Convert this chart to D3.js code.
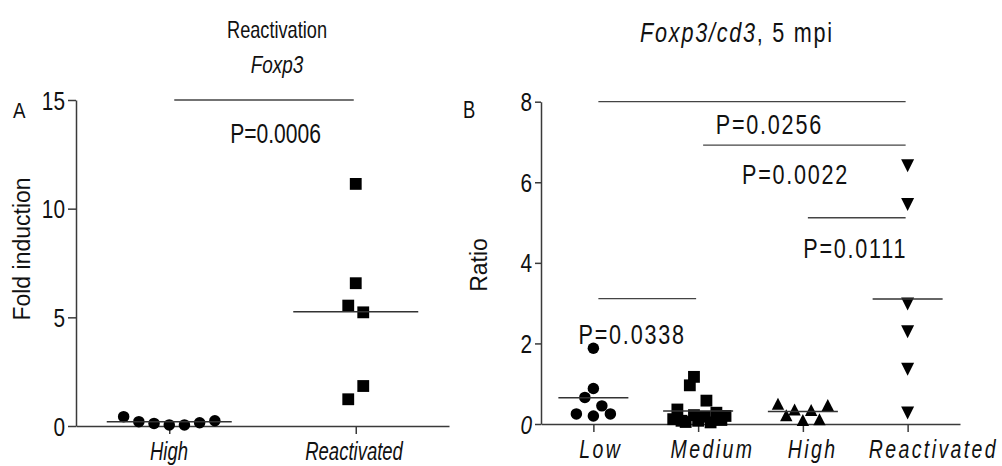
<!DOCTYPE html>
<html>
<head>
<meta charset="utf-8">
<script src="https://cdn.jsdelivr.net/npm/d3@7"></script>
<style>
  body { margin: 0; background: #fff; }
  svg { display: block; font-family: "Liberation Sans", Arial, sans-serif; }
  text { fill: #111; }
</style>
</head>
<body>
<svg></svg>
<script>
const size = { w: 1002, h: 466 };
const svg = d3.select("svg").attr("width", size.w).attr("height", size.h);

// ---------- data ----------
// panel A: Reactivation, Foxp3 fold induction
const catsA = ["High", "Reactivated"];
const highA = [0.43, 0.2, 0.12, 0.05, 0.05, 0.15, 0.24];
const highASlot = [-3, -2, -1, 0, 1, 2, 3];
const reactA = [11.14, 6.57, 5.54, 5.23, 1.84, 1.23];
const reactASlot = [0, 0, -1, 1, 1, -1];
const meanA = [0.2, 5.26];
const ticksA = [0, 5, 10, 15];
// significance bar: from category, to category, height, label, label height, label pos (category units)
const sigA = [{ from: 0, to: 1, y: 15, label: "P=0.0006", ly: 13.0, lx: 0.57 }];

// panel B: Foxp3/cd3 ratio, 5 mpi
const catsB = ["Low", "Medium", "High", "Reactivated"];
const lowB = [1.88, 0.88, 0.66, 0.45, 0.25, 0.2, 0.25];
const lowBSlot = [0, 0, -1, 1, -2, 0, 2];
const medB = [1.17, 0.96, 0.58, 0.36, 0.12, 0.05, 0.22, 0.08, 0.18, 0.04, 0.28, 0.1, 0.2, 0.08];
const medBSlot = [-0.5, -1, 1, -2.5, -3, -1.5, -0.5, 0, 0.8, 1.5, 2.2, 2.8, 3.3, -2];
const highB = [0.5, 0.22, 0.36, 0.1, 0.35, 0.12, 0.47];
const highBSlot = [-3, -2, -1, 0, 1, 2, 3];
const reactB = [6.41, 5.45, 2.98, 2.29, 1.36, 0.27];
const reactBSlot = [0, 0, 0, 0, 0, 0];
const meanB = [0.65, 0.32, 0.31, 3.1];
const ticksB = [0, 2, 4, 6, 8];
const sigB = [
  { from: 0, to: 3, y: 8.0, label: "P=0.0256", ly: 7.2, lx: 1.68 },
  { from: 1, to: 3, y: 6.92, label: "P=0.0022", ly: 5.95, lx: 1.93 },
  { from: 2, to: 3, y: 5.12, label: "P=0.0111", ly: 4.11, lx: 2.5 },
  { from: 0, to: 1, y: 3.11, label: "P=0.0338", ly: 1.98, lx: 0.37 },
];

// ---------- helpers ----------
// condensed-looking text: scale horizontally
function txt(g, x, y, s, o) {
  return g.append("text")
    .attr("transform", `translate(${x},${y}) scale(${o.sx == null ? 0.8 : o.sx},1)`)
    .attr("text-anchor", o.anchor || "middle")
    .style("font-size", o.size + "px")
    .style("font-style", o.italic ? "italic" : "normal")
    .style("letter-spacing", (o.ls || 0) + "px")
    .text(s);
}

const shapes = {
  circle: d3.symbol().type(d3.symbolCircle).size(Math.PI * 33)(),
  square: d3.symbol().type(d3.symbolSquare).size(140)(),
  up: "M-6.2,6L6.2,6L0,-6Z",
  down: "M-6.5,-6.5L6.5,-6.5L0,6.5Z",
};

function drawPanel(cfg) {
  const g = svg.append("g");
  const x = d3.scalePoint().domain(cfg.cats).range(cfg.xr).padding(0.5);
  const y = d3.scaleLinear().domain(cfg.yd).range(cfg.yr);
  const step = x.step();
  const catX = (i) => x(cfg.cats[0]) + i * step;

  // axes
  const ya = g.append("g").attr("transform", `translate(${cfg.xr[0]},0)`)
    .call(d3.axisLeft(y).tickValues(cfg.ticks).tickSize(cfg.tick).tickSizeOuter(0));
  ya.selectAll("text")
    .attr("x", null).attr("dy", null)
    .attr("transform", `translate(${cfg.tlx},${cfg.tly}) scale(0.8,1)`)
    .style("font-size", "26px").style("fill", "#111")
    .style("font-style", (d) => (cfg.italicZero && d === 0 ? "italic" : "normal"))
    .style("font-family", "inherit");

  const xa = g.append("g").attr("transform", `translate(0,${cfg.yr[0]})`)
    .call(d3.axisBottom(x).tickSize(8).tickSizeOuter(0));
  xa.selectAll("text")
    .attr("y", null).attr("dy", null)
    .attr("transform", (d) => `translate(${cfg.xdx * d.length},34) scale(${cfg.xsx},1)`)
    .style("font-size", cfg.xfs + "px").style("font-style", "italic")
    .style("letter-spacing", cfg.xls + "px").style("fill", "#111")
    .style("font-family", "inherit");

  g.selectAll(".domain, .tick line").attr("stroke", "#3a3a3a").attr("stroke-width", 1.5);

  // points
  cfg.series.forEach((s, i) => {
    const cx = x(cfg.cats[i]);
    g.append("g").selectAll("path")
      .data(s.values)
      .join("path")
      .attr("d", shapes[s.shape])
      .attr("transform", (d, j) => `translate(${cx + s.slot[j] * s.slotPx},${y(d)})`)
      .attr("fill", "#000");
  });

  // mean lines
  g.append("g").selectAll("line")
    .data(cfg.means)
    .join("line")
    .attr("x1", (d, i) => x(cfg.cats[i]) - cfg.meanHalf)
    .attr("x2", (d, i) => x(cfg.cats[i]) + cfg.meanHalf)
    .attr("y1", (d) => y(d)).attr("y2", (d) => y(d))
    .attr("stroke", "#333").attr("stroke-width", 1.5);

  // significance bars
  g.append("g").selectAll("line")
    .data(cfg.sig)
    .join("line")
    .attr("x1", (d) => catX(d.from) + 5)
    .attr("x2", (d) => catX(d.to) - 2)
    .attr("y1", (d) => y(d.y)).attr("y2", (d) => y(d.y))
    .attr("stroke", "#444").attr("stroke-width", 1.3);
  cfg.sig.forEach((d) => {
    txt(g, catX(d.lx), y(d.ly), d.label, { size: 27, sx: cfg.psx, ls: cfg.pls });
  });
  return g;
}

// ---------- panel A ----------
const gA = drawPanel({
  cats: catsA, xr: [76, 449], yd: [0, 15], yr: [426, 100], ticks: ticksA, tick: 8,
  tlx: -11, tly: 9, xsx: 0.74, xfs: 25, xls: 0, xdx: -0.2,
  series: [
    { values: highA, slot: highASlot, slotPx: 15.2, shape: "circle" },
    { values: reactA, slot: reactASlot, slotPx: 7.5, shape: "square" },
  ],
  means: meanA, meanHalf: 62.5, sig: sigA, psx: 0.78, pls: 0,
});
txt(gA, 277, 38, "Reactivation", { size: 23, sx: 0.79 });
txt(gA, 277, 73, "Foxp3", { size: 24, sx: 0.79, italic: true });
txt(gA, 13, 118, "A", { size: 22, sx: 0.85, anchor: "start" });
gA.append("text")
  .attr("transform", "translate(30,249) rotate(-90)")
  .attr("text-anchor", "middle")
  .style("font-size", "23px")
  .text("Fold induction");

// ---------- panel B ----------
const gB = drawPanel({
  cats: catsB, xr: [541, 960], yd: [0, 8], yr: [424, 101.7], ticks: ticksB, tick: 6,
  tlx: -9, tly: 9, xsx: 0.75, xfs: 26, xls: 3.2, xdx: 2.3, italicZero: true,
  series: [
    { values: lowB, slot: lowBSlot, slotPx: 8.5, shape: "circle" },
    { values: medB, slot: medBSlot, slotPx: 8.3, shape: "square" },
    { values: highB, slot: highBSlot, slotPx: 8.3, shape: "up" },
    { values: reactB, slot: reactBSlot, slotPx: 8.3, shape: "down" },
  ],
  means: meanB, meanHalf: 35, sig: sigB, psx: 0.8, pls: 2.2,
});
const tB = gB.append("text")
  .attr("transform", "translate(737,42) scale(0.8,1)")
  .attr("text-anchor", "middle")
  .style("font-size", "27px")
  .style("letter-spacing", "2.2px");
tB.append("tspan").style("font-style", "italic").text("Foxp3/cd3");
tB.append("tspan").text(", 5 mpi");
txt(gB, 463, 118, "B", { size: 23, sx: 0.8, anchor: "start" });
gB.append("text")
  .attr("transform", "translate(487,265) rotate(-90)")
  .attr("text-anchor", "middle")
  .style("font-size", "23px")
  .text("Ratio");
</script>
</body>
</html>
